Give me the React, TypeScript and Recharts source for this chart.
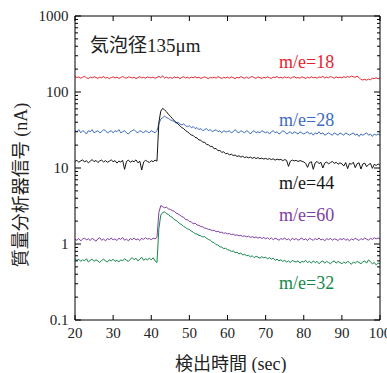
import React from 'react';
import { LineChart, Line, XAxis, YAxis } from 'recharts';

const TIMES = [
  20,20.5,21,21.5,22,22.5,23,23.5,24,24.5,25,25.5,26,26.5,27,27.5,28,28.5,29,29.5,
  30,30.5,31,31.5,32,32.5,33,33.5,34,34.5,35,35.5,36,36.5,37,37.5,38,38.5,39,39.5,
  40,40.5,41,41.5,42,42.5,43,43.5,44,44.5,45,45.5,46,46.5,47,47.5,48,48.5,49,49.5,
  50,50.5,51,51.5,52,52.5,53,53.5,54,54.5,55,55.5,56,56.5,57,57.5,58,58.5,59,59.5,
  60,60.5,61,61.5,62,62.5,63,63.5,64,64.5,65,65.5,66,66.5,67,67.5,68,68.5,69,69.5,
  70,70.5,71,71.5,72,72.5,73,73.5,74,74.5,75,75.5,76,76.5,77,77.5,78,78.5,79,79.5,
  80,80.5,81,81.5,82,82.5,83,83.5,84,84.5,85,85.5,86,86.5,87,87.5,88,88.5,89,89.5,
  90,90.5,91,91.5,92,92.5,93,93.5,94,94.5,95,95.5,96,96.5,97,97.5,98,98.5,99,99.5,
  100,
];

// m/e=18
const ME18 = [
  160,155,158,152,156,161,154,150,157,153,159,155,151,157,154,160,152,156,150,155,
  158,153,157,151,155,160,154,152,158,156,153,157,150,155,159,153,156,152,158,155,
  154,157,151,156,160,155,162,153,157,152,156,151,158,154,157,150,155,159,153,156,
  152,157,154,159,153,156,151,155,158,154,150,156,153,157,152,159,155,151,156,153,
  157,152,158,154,150,156,153,159,155,152,157,151,156,160,154,152,158,155,151,156,
  153,158,154,151,157,155,160,153,156,152,158,154,157,151,156,159,153,155,152,158,
  155,151,157,153,159,154,156,152,158,155,161,153,157,154,160,156,152,158,154,157,
  153,159,155,160,156,162,158,157,161,155,146,144,147,143,148,145,152,150,154,149,
  153,
];

// m/e=28
const ME28 = [
  31,30,32,29,31,30,28,31,30,32,29,30,31,29,30,32,31,29,30,31,
  29,31,30,32,29,30,31,29,28,30,31,32,30,29,31,30,29,31,30,29,
  31,30,29,31,38,44,46,48,46,45,43,42,41,39,40,38,37,38,36,35,
  36,34,35,33,34,32,33,31,32,33,31,32,30,31,32,30,31,29,31,30,
  30,31,29,30,32,30,29,31,30,29,31,30,28,30,31,29,30,29,31,30,
  29,30,28,30,31,29,30,28,29,31,30,28,29,30,28,30,29,28,30,29,
  28,29,30,28,29,27,29,28,30,28,29,27,28,29,28,27,29,28,27,29,
  28,27,29,28,27,28,29,27,28,26,28,27,28,29,27,28,26,28,27,28,
  27,
];

// m/e=44
const ME44 = [
  12.2,12.6,11.9,12.4,12.8,12.0,12.5,11.7,12.3,12.9,12.1,12.6,11.8,12.4,12.7,12.0,12.5,11.9,12.3,12.8,
  12.1,12.5,11.6,12.3,12.0,12.6,9.6,12.2,12.7,11.9,12.4,12.1,12.8,11.7,12.3,9.4,12.0,12.6,12.2,11.8,
  12.5,12.1,12.7,12.3,40,56,61,58,55,51,48,45,42,40,38,36,34,33,31,30,
  28.5,27.2,26.8,25.3,24.9,23.4,23.2,21.8,21.9,20.4,20.2,19.2,19.3,17.9,18.1,16.9,17.0,16.1,16.3,15.4,
  15.6,14.9,15.2,14.6,14.8,14.2,14.5,13.9,14.3,13.7,14.0,13.6,13.9,13.4,13.8,13.3,13.7,13.2,13.5,13.1,
  13.4,13.0,13.3,12.9,13.2,12.7,13.1,12.8,13.0,12.5,12.9,12.6,10.5,12.3,12.7,12.4,12.6,12.2,12.5,12.3,
  12.0,11.5,10.2,11.8,12.1,9.6,11.7,12.2,11.4,11.9,10.0,11.6,12.0,11.3,11.8,12.2,11.5,11.9,11.2,11.7,
  11.4,10.6,11.8,9.8,11.5,11.2,11.9,10.1,11.4,11.7,9.7,11.3,11.6,10.4,11.1,11.5,9.9,11.2,10.8,11.3,
  10.9,
];

// m/e=60
const ME60 = [
  1.15,1.12,1.18,1.10,1.16,1.20,1.13,1.17,1.11,1.19,1.14,1.09,1.17,1.21,1.12,1.16,1.10,1.18,1.14,1.20,
  1.13,1.17,1.11,1.19,1.15,1.22,1.12,1.16,1.10,1.18,1.14,1.20,1.13,1.17,1.11,1.19,1.15,1.21,1.16,1.18,
  1.14,1.19,1.17,1.22,2.6,3.2,3.1,3.0,3.05,2.9,2.85,2.75,2.7,2.55,2.5,2.4,2.3,2.25,2.1,2.08,
  1.98,1.95,1.85,1.88,1.78,1.76,1.70,1.68,1.62,1.60,1.56,1.55,1.50,1.52,1.45,1.47,1.42,1.43,1.38,1.40,
  1.36,1.37,1.33,1.35,1.30,1.32,1.28,1.30,1.26,1.28,1.24,1.27,1.22,1.25,1.21,1.24,1.19,1.23,1.18,1.22,
  1.17,1.21,1.15,1.20,1.14,1.19,1.16,1.12,1.18,1.15,1.20,1.13,1.17,1.11,1.19,1.14,1.18,1.12,1.16,1.20,
  1.13,1.17,1.11,1.19,1.15,1.12,1.18,1.14,1.20,1.13,1.16,1.10,1.18,1.14,1.19,1.12,1.17,1.15,1.11,1.18,
  1.14,1.19,1.12,1.16,1.10,1.17,1.13,1.19,1.15,1.11,1.18,1.14,1.20,1.16,1.12,1.19,1.15,1.21,1.17,1.20,
  1.16,
];

// m/e=32
const ME32 = [
  0.64,0.61,0.63,0.59,0.62,0.60,0.64,0.58,0.61,0.63,0.59,0.62,0.60,0.57,0.61,0.63,0.60,0.58,0.62,0.60,
  0.63,0.59,0.61,0.58,0.62,0.60,0.64,0.61,0.59,0.63,0.66,0.62,0.65,0.60,0.63,0.67,0.61,0.64,0.62,0.65,
  0.62,0.66,0.60,0.57,1.6,2.4,2.6,2.65,2.5,2.45,2.3,2.25,2.1,2.05,1.95,1.85,1.8,1.7,1.65,1.58,
  1.55,1.48,1.43,1.37,1.35,1.30,1.28,1.24,1.25,1.19,1.15,1.12,1.06,1.04,0.98,0.97,0.92,0.91,0.87,0.88,
  0.84,0.83,0.80,0.81,0.77,0.78,0.74,0.76,0.72,0.73,0.70,0.71,0.68,0.70,0.66,0.69,0.67,0.65,0.68,0.66,
  0.67,0.64,0.66,0.63,0.65,0.61,0.63,0.60,0.62,0.59,0.61,0.58,0.60,0.57,0.61,0.59,0.58,0.60,0.56,0.59,
  0.58,0.61,0.57,0.59,0.56,0.60,0.57,0.59,0.55,0.58,0.60,0.56,0.59,0.57,0.55,0.58,0.60,0.56,0.59,0.57,
  0.55,0.58,0.56,0.59,0.57,0.54,0.58,0.56,0.59,0.57,0.55,0.58,0.60,0.56,0.62,0.58,0.55,0.57,0.53,0.56,
  0.55,
];

const X_TICKS = [20, 30, 40, 50, 60, 70, 80, 90, 100];
const Y_TICKS = [
  0.1, 0.2, 0.3, 0.4, 0.5, 0.6, 0.7, 0.8, 0.9,
  1, 2, 3, 4, 5, 6, 7, 8, 9,
  10, 20, 30, 40, 50, 60, 70, 80, 90,
  100, 200, 300, 400, 500, 600, 700, 800, 900,
  1000,
];
const Y_LABELS = ['0.1', '1', '10', '100', '1000'];

const SERIES_LABELS = ['m/e=18', 'm/e=28', 'm/e=44', 'm/e=60', 'm/e=32'];
const TITLE = '気泡径135μm';
const X_TITLE = '検出時間 (sec)';
const Y_TITLE = '質量分析器信号 (nA)';

const COLORS = {
  m18: '#e6222c',
  m28: '#3d6bc0',
  m44: '#151515',
  m60: '#7e3ea4',
  m32: '#13884a',
};

const SERIF = '"Liberation Serif", "Times New Roman", "Noto Sans CJK JP", serif';
const SERIF_STYLE = { fontFamily: SERIF };

const rows = TIMES.map((t, i) => ({
  t,
  m18: ME18[i],
  m28: ME28[i],
  m44: ME44[i],
  m60: ME60[i],
  m32: ME32[i],
}));

const isDecade = (v: number) => Y_LABELS.some((d) => Math.abs(Number(d) - v) < 1e-9);

const BottomTick = (p: any) => {
  const { x, y, payload } = p;
  return (
    <g>
      <line x1={x} y1={y} x2={x} y2={y - 5} stroke="#000" strokeWidth={1} />
      <text x={x} y={y + 18} textAnchor="middle" style={SERIF_STYLE} fontSize={15} fill="#222">
        {payload.value}
      </text>
    </g>
  );
};

const TopTick = (p: any) => {
  const { x, y } = p;
  return <line x1={x} y1={y} x2={x} y2={y + 5} stroke="#000" strokeWidth={1} />;
};

const LeftTick = (p: any) => {
  const { x, y, payload } = p;
  const dec = isDecade(payload.value);
  return (
    <g>
      <line x1={x} y1={y} x2={x + (dec ? 6 : 3)} y2={y} stroke="#000" strokeWidth={1} />
      {dec && (
        <text x={x - 6.5} y={y + 5} textAnchor="end" style={SERIF_STYLE} fontSize={15} fill="#222">
          {String(payload.value)}
        </text>
      )}
    </g>
  );
};

const RightTick = (p: any) => {
  const { x, y, payload } = p;
  const dec = isDecade(payload.value);
  return <line x1={x} y1={y} x2={x - (dec ? 6 : 3)} y2={y} stroke="#000" strokeWidth={1} />;
};

const labelPos = [
  { key: 'm18', x: 279, y: 68 },
  { key: 'm28', x: 279, y: 126 },
  { key: 'm44', x: 279, y: 189 },
  { key: 'm60', x: 279, y: 221 },
  { key: 'm32', x: 279, y: 289 },
];

export default function App() {
  return (
    <div style={{ position: 'absolute', left: 0, top: 0, width: 387, height: 373, background: '#fff' }}>
      <LineChart
        width={387}
        height={373}
        data={rows}
        margin={{ top: 0, right: 0, bottom: 23, left: 0 }}
      >
        <XAxis
          dataKey="t"
          type="number"
          domain={[20, 100]}
          ticks={X_TICKS}
          interval={0}
          allowDataOverflow
          height={30}
          tickSize={0}
          tickMargin={0}
          tickLine={false}
          axisLine={{ stroke: '#000', strokeWidth: 1 }}
          tick={<BottomTick />}
        />
        <XAxis
          xAxisId="top"
          orientation="top"
          dataKey="t"
          type="number"
          domain={[20, 100]}
          ticks={X_TICKS}
          interval={0}
          allowDataOverflow
          height={16}
          tickSize={0}
          tickMargin={0}
          tickLine={false}
          axisLine={{ stroke: '#000', strokeWidth: 1 }}
          tick={<TopTick />}
        />
        <YAxis
          scale="log"
          type="number"
          domain={[0.1, 1000]}
          ticks={Y_TICKS}
          interval={0}
          allowDataOverflow
          width={75}
          tickSize={0}
          tickMargin={0}
          tickLine={false}
          axisLine={{ stroke: '#000', strokeWidth: 1 }}
          tick={<LeftTick />}
        />
        <YAxis
          yAxisId="r"
          orientation="right"
          scale="log"
          type="number"
          domain={[0.1, 1000]}
          ticks={Y_TICKS}
          interval={0}
          allowDataOverflow
          width={7}
          tickSize={0}
          tickMargin={0}
          tickLine={false}
          axisLine={{ stroke: '#000', strokeWidth: 1 }}
          tick={<RightTick />}
        />
        <Line dataKey="m18" stroke={COLORS.m18} strokeWidth={1} dot={false} isAnimationActive={false} />
        <Line dataKey="m28" stroke={COLORS.m28} strokeWidth={1} dot={false} isAnimationActive={false} />
        <Line dataKey="m44" stroke={COLORS.m44} strokeWidth={1} dot={false} isAnimationActive={false} />
        <Line dataKey="m60" stroke={COLORS.m60} strokeWidth={1} dot={false} isAnimationActive={false} />
        <Line dataKey="m32" stroke={COLORS.m32} strokeWidth={1} dot={false} isAnimationActive={false} />
      </LineChart>
      <svg
        width={387}
        height={373}
        style={{ position: 'absolute', left: 0, top: 0, pointerEvents: 'none' }}
      >
        <text x={90} y={52} style={SERIF_STYLE} fontSize={19} fill="#222">
          {TITLE}
        </text>
        {labelPos.map((l, i) => (
          <text
            key={l.key}
            x={l.x}
            y={l.y}
            style={SERIF_STYLE}
            fontSize={18}
            fill={(COLORS as any)[l.key]}
          >
            {SERIES_LABELS[i]}
          </text>
        ))}
        <text x={175} y={370} style={SERIF_STYLE} fontSize={18} fill="#222">
          {X_TITLE}
        </text>
        <text
          x={0}
          y={0}
          transform="translate(27,185) rotate(-90)"
          textAnchor="middle"
          style={SERIF_STYLE}
          fontSize={18}
          fill="#222"
        >
          {Y_TITLE}
        </text>
      </svg>
    </div>
  );
}
